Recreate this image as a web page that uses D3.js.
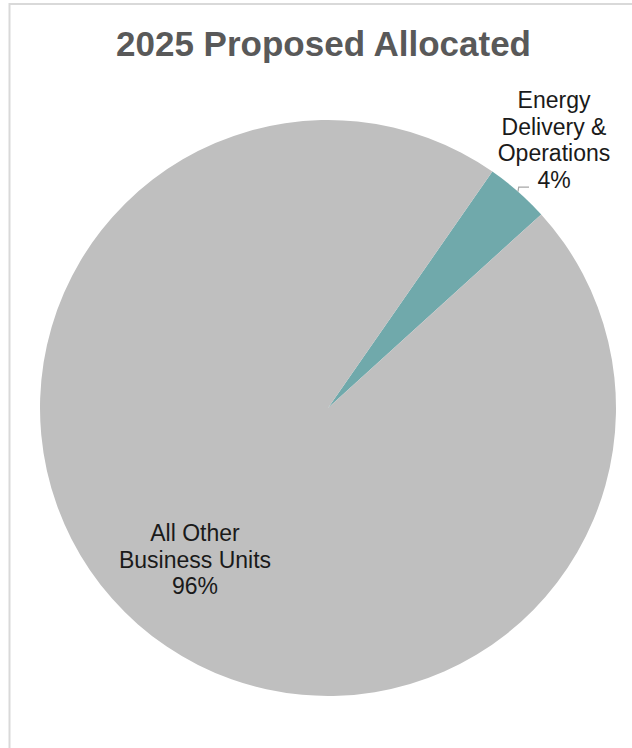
<!DOCTYPE html>
<html>
<head>
<meta charset="utf-8">
<script src="https://cdn.jsdelivr.net/npm/d3@7"></script>
<style>
  html, body { margin: 0; padding: 0; background: #ffffff; }
  svg { display: block; }
</style>
</head>
<body>
<svg id="chart" width="632" height="748"></svg>
<script>
// ---- data ----
const title = "2025 Proposed Allocated";
const categories = ["Energy Delivery & Operations", "All Other Business Units"];
const labelLines = [["Energy", "Delivery &", "Operations"], ["All Other", "Business Units"]];
const values = [3.6, 96.4];
const sliceColors = ["#70a9ab", "#bfbfbf"];

// ---- layout ----
const W = 632, H = 748;
const cx = 328, cy = 408, R = 288;
const startDeg = 34.8;

const svg = d3.select("#chart");

// chart border (only top/left visible in frame)
svg.append("rect")
  .attr("x", 9.5).attr("y", 4)
  .attr("width", 700).attr("height", 800)
  .attr("fill", "none")
  .attr("stroke", "#d9d9d9")
  .attr("stroke-width", 2);

svg.append("text")
  .attr("x", 323.5).attr("y", 56)
  .attr("text-anchor", "middle")
  .attr("font-family", "Liberation Sans, Arial, sans-serif")
  .attr("font-weight", "bold")
  .attr("font-size", 35)
  .attr("fill", "#595959")
  .text(title);

const data = categories.map((c, i) => ({ cat: c, value: values[i], lines: labelLines[i], color: sliceColors[i] }));
const total = d3.sum(values);

const pie = d3.pie()
  .value(d => d.value)
  .sort(null)
  .startAngle(startDeg * Math.PI / 180)
  .endAngle(startDeg * Math.PI / 180 + 2 * Math.PI);

const arcs = pie(data);
const arc = d3.arc().innerRadius(0).outerRadius(R);

const g = svg.append("g").attr("transform", `translate(${cx},${cy})`);

g.selectAll("path.slice")
  .data(arcs)
  .join("path")
  .attr("class", "slice")
  .attr("d", arc)
  .attr("fill", d => d.data.color);

const fontFamily = "Liberation Sans, Arial, sans-serif";
const fs = 23, lh = 26.6;

// small slice: outside label with leader
{
  const a = arcs[0];
  const mid = (a.startAngle + a.endAngle) / 2;
  const mx = R * Math.sin(mid), my = -R * Math.cos(mid);
  const ly = my - 4.5;
  g.append("path")
    .attr("d", `M${mx},${my} L${mx + 0.7},${ly} L${mx + 11},${ly}`)
    .attr("fill", "none")
    .attr("stroke", "#a6a6a6")
    .attr("stroke-width", 1.2);
  const lines = a.data.lines.concat([Math.round(a.data.value / total * 100) + "%"]);
  const tx = mx + 36, lastBase = my - 3.5;
  const t = g.append("text")
    .attr("text-anchor", "middle")
    .attr("font-family", fontFamily)
    .attr("font-size", fs)
    .attr("fill", "#1a1a1a");
  lines.forEach((l, i) => {
    t.append("tspan")
      .attr("x", tx)
      .attr("y", lastBase - (lines.length - 1 - i) * lh)
      .text(l);
  });
}

// large slice: inside label at centroid
{
  const a = arcs[1];
  const inner = d3.arc().innerRadius(R * 0.7).outerRadius(R * 0.7);
  const [px, py] = inner.centroid(a);
  const lines = a.data.lines.concat([Math.round(a.data.value / total * 100) + "%"]);
  const t = g.append("text")
    .attr("text-anchor", "middle")
    .attr("font-family", fontFamily)
    .attr("font-size", fs)
    .attr("fill", "#1a1a1a");
  const firstBase = py + 0.35 * fs - (lines.length - 1) / 2 * lh;
  lines.forEach((l, i) => {
    t.append("tspan")
      .attr("x", px)
      .attr("y", firstBase + i * lh)
      .text(l);
  });
}
</script>
</body>
</html>
